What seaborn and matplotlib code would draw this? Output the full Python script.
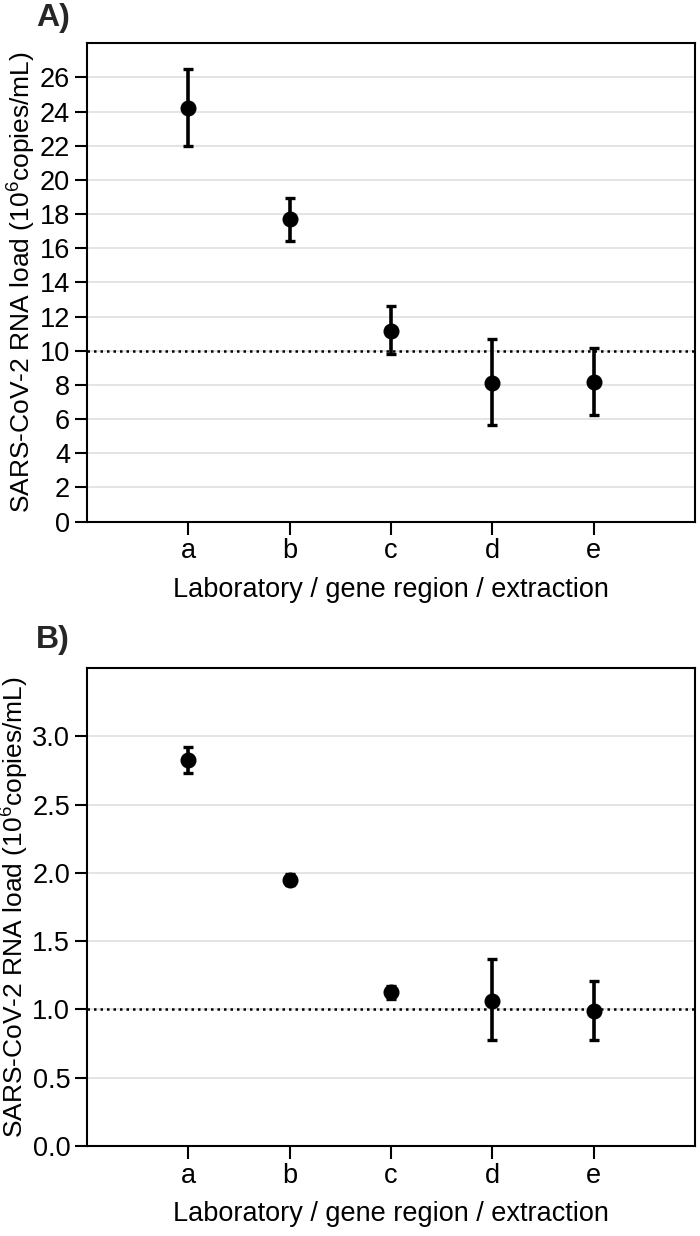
import matplotlib
matplotlib.use("Agg")
import matplotlib.pyplot as plt
import numpy as np
import pandas as pd
import seaborn as sns

# categories (laboratory / gene region / extraction)
labs = ["a", "b", "c", "d", "e"]

# panel A: load in 10^6 copies/mL, with lower/upper error limits
a_mean = [24.2, 17.7, 11.15, 8.1, 8.15]
a_low = [21.97, 16.44, 9.8, 5.64, 6.25]
a_high = [26.5, 18.95, 12.6, 10.68, 10.15]
a_ref = 10

# panel B
b_mean = [2.83, 1.95, 1.125, 1.065, 0.99]
b_low = [2.735, 1.91, 1.08, 0.775, 0.78]
b_high = [2.925, 1.995, 1.17, 1.37, 1.21]
b_ref = 1.0

sns.set_style("ticks")
plt.rcParams["font.family"] = ["Liberation Sans", "DejaVu Sans"]
plt.rcParams["mathtext.fontset"] = "custom"
plt.rcParams["mathtext.rm"] = "Liberation Sans"
plt.rcParams["mathtext.it"] = "Liberation Sans"


def draw_panel(ax, mean, low, high, ref, ylim, yticks, ytick_labels):
    df = pd.DataFrame({"lab": labs, "load": mean})
    err = np.array([np.subtract(mean, low), np.subtract(high, mean)])

    ax.grid(True, color="#dcdcdc", linewidth=1.1, zorder=0)
    ax.axhline(ref, color="black", linestyle=(0, (1, 1.6)), linewidth=1.8, zorder=1)
    ax.errorbar(labs, mean, yerr=err, fmt="none", ecolor="black",
                elinewidth=2.6, capsize=3.5, capthick=2.4, zorder=3)
    sns.pointplot(data=df, x="lab", y="load", order=labs, color="black",
                  linestyle="none", errorbar=None, markersize=9.5, ax=ax,
                  zorder=4)

    ax.set_xlim(-1, 5)
    ax.set_ylim(*ylim)
    ax.set_yticks(yticks)
    ax.set_yticklabels(ytick_labels)
    ax.set_axisbelow(True)
    for s in ax.spines.values():
        s.set_color("black")
        s.set_linewidth(1.5)
    ax.tick_params(axis="both", direction="out", length=9, width=1.5,
                   color="black", labelcolor="black", labelsize=19.5, pad=3)
    ax.set_xlabel("Laboratory / gene region / extraction", fontsize=19.5,
                  labelpad=9, color="black")
    ax.set_ylabel("SARS-CoV-2 RNA load (10$^6$copies/mL)", fontsize=19,
                  labelpad=1, color="black")


fig = plt.figure(figsize=(7, 12.36), dpi=100)
ax1 = fig.add_axes([0.124, 0.578, 0.869, 0.387])
ax2 = fig.add_axes([0.124, 0.0728, 0.869, 0.3867])

draw_panel(ax1, a_mean, a_low, a_high, a_ref, (0, 28),
           list(range(0, 27, 2)), [str(v) for v in range(0, 27, 2)])
draw_panel(ax2, b_mean, b_low, b_high, b_ref, (0, 3.5),
           [0, 0.5, 1.0, 1.5, 2.0, 2.5, 3.0],
           ["0.0", "0.5", "1.0", "1.5", "2.0", "2.5", "3.0"])

fig.text(36 / 700, 1 - 18 / 1236, "A)", fontsize=23, fontweight="bold",
         ha="left", va="center")
fig.text(36 / 700, 1 - 640 / 1236, "B)", fontsize=23, fontweight="bold",
         ha="left", va="center")

fig.savefig("out.png", dpi=100)
